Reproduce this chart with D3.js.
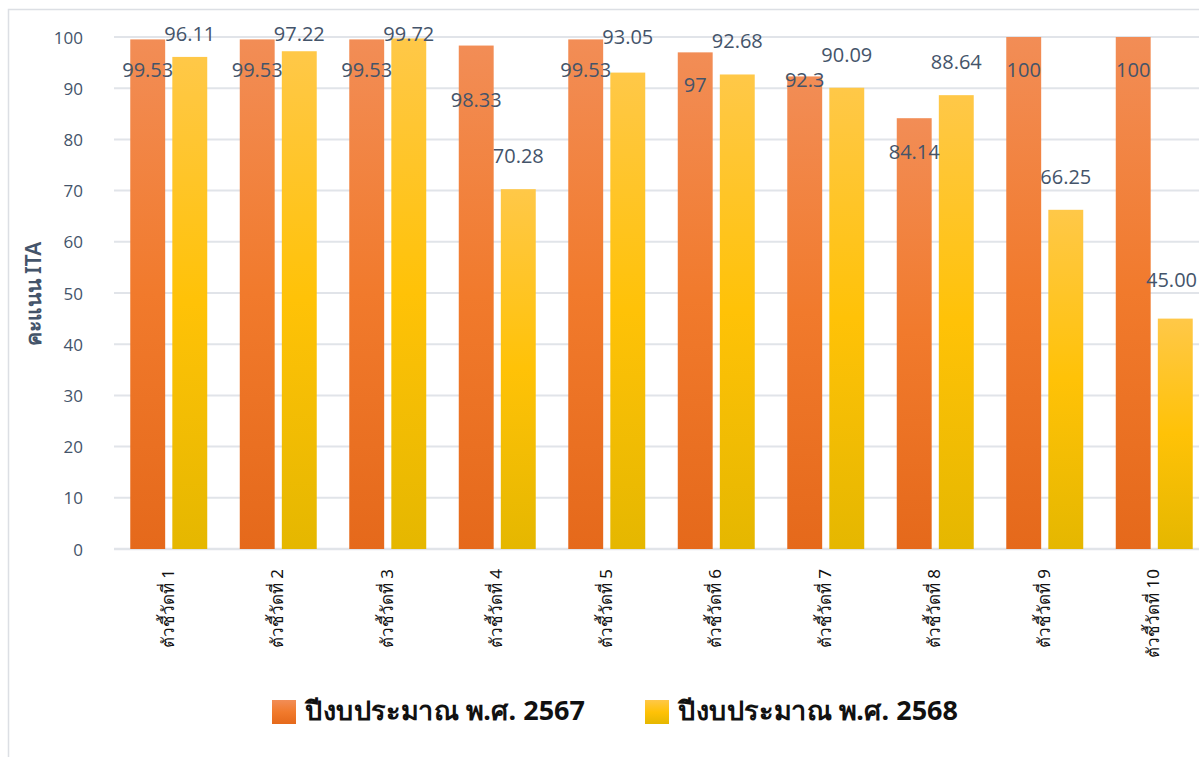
<!DOCTYPE html>
<html><head><meta charset="utf-8">
<script src="https://cdn.jsdelivr.net/npm/d3@7"></script>
<style>
html,body{margin:0;padding:0;background:#fff;}
svg{display:block;}
</style></head>
<body>
<svg id="chart" width="1199" height="757"></svg>
<script>
const categories = ["ตัวชี้วัดที่ 1","ตัวชี้วัดที่ 2","ตัวชี้วัดที่ 3","ตัวชี้วัดที่ 4","ตัวชี้วัดที่ 5","ตัวชี้วัดที่ 6","ตัวชี้วัดที่ 7","ตัวชี้วัดที่ 8","ตัวชี้วัดที่ 9","ตัวชี้วัดที่ 10"];
const seriesNames = ["ปีงบประมาณ พ.ศ. 2567","ปีงบประมาณ พ.ศ. 2568"];
const values2567 = [99.53,99.53,99.53,98.33,99.53,97,92.3,84.14,100,100];
const values2568 = [96.11,97.22,99.72,70.28,93.05,92.68,90.09,88.64,66.25,45.00];
const labels2567 = ["99.53","99.53","99.53","98.33","99.53","97","92.3","84.14","100","100"];
const labels2568 = ["96.11","97.22","99.72","70.28","93.05","92.68","90.09","88.64","66.25","45.00"];
// where each data label sits, in score units (labels were placed by hand in the original)
const labelAt2567 = [93.6,93.6,93.6,87.7,93.6,90.6,91.6,77.5,93.6,93.6];
const labelAt2568 = [100.6,100.6,100.6,76.8,100.0,99.2,96.5,95.1,72.7,52.5];
const yTicks = [0,10,20,30,40,50,60,70,80,90,100];
const yTitle = "คะแนน ITA";

const svg = d3.select("#chart");
const W = 1199;
const plotLeft = 114, plotRight = 1209, plotTop = 37, plotBottom = 549;

const defs = svg.append("defs");
function grad(id, stops){
  const g = defs.append("linearGradient").attr("id", id).attr("x1",0).attr("y1",0).attr("x2",0).attr("y2",1);
  stops.forEach(s => g.append("stop").attr("offset", s[0]).attr("stop-color", s[1]));
}
grad("gOrange", [["0%","#F28D56"],["50%","#F17A2C"],["100%","#E5691B"]]);
grad("gYellow", [["0%","#FFC848"],["50%","#FFC207"],["100%","#E5B700"]]);
const fills = ["url(#gOrange)","url(#gYellow)"];

// frame
svg.append("rect").attr("x",8.5).attr("y",9.5).attr("width",1300).attr("height",800)
  .attr("fill","none").attr("stroke","#dcdfe4").attr("stroke-width",1.5);

const x = d3.scaleBand().domain(categories).range([plotLeft, plotRight])
  .paddingInner(0.297).paddingOuter(0.1485);
const x1 = d3.scaleBand().domain(seriesNames).range([0, x.bandwidth()]).paddingInner(0.17).paddingOuter(0);
const y = d3.scaleLinear().domain([0,100]).range([plotBottom, plotTop]);

// gridlines
svg.append("g").selectAll("line").data(yTicks).join("line")
  .attr("x1", plotLeft).attr("x2", plotRight)
  .attr("y1", d => y(d)).attr("y2", d => y(d))
  .attr("stroke", "#e1e4e9").attr("stroke-width", d => d === 0 ? 2.5 : 2);

// y axis labels
const yAxis = d3.axisLeft(y).tickValues(yTicks).tickSize(0).tickPadding(0);
const gy = svg.append("g").attr("transform", `translate(83,0)`).call(yAxis);
gy.select(".domain").remove();
gy.selectAll("text").attr("font-family","'Open Sans', 'Noto Sans', sans-serif")
  .attr("font-size", 17).attr("fill", "#44546A").attr("dy","0.36em");

// y title
svg.append("text").attr("transform", `translate(41,294) rotate(-90)`)
  .attr("text-anchor","middle").attr("font-family","'Noto Sans', 'Open Sans', sans-serif")
  .attr("font-size", 21).attr("font-weight", 600).attr("fill", "#44546A").text(yTitle);

const allVals = [values2567, values2568];
const allLabels = [labels2567, labels2568];
const allLabelAt = [labelAt2567, labelAt2568];

seriesNames.forEach((s, si) => {
  svg.append("g").selectAll("rect").data(categories).join("rect")
    .attr("x", c => x(c) + x1(s))
    .attr("width", x1.bandwidth())
    .attr("y", (c,i) => y(allVals[si][i]))
    .attr("height", (c,i) => y(0) - y(allVals[si][i]))
    .attr("fill", fills[si]);
});
seriesNames.forEach((s, si) => {
  svg.append("g").selectAll("text").data(categories).join("text")
    .attr("x", c => x(c) + x1(s) + x1.bandwidth()/2)
    .attr("y", (c,i) => y(allLabelAt[si][i]))
    .attr("dy","0.36em")
    .attr("text-anchor","middle")
    .attr("font-family","'Open Sans', 'Noto Sans', sans-serif")
    .attr("font-size", 20).attr("fill", "#44546A")
    .text((c,i) => allLabels[si][i])
    .each(function(){
      const b = this.getBBox();
      if (b.x + b.width > W - 2) {
        d3.select(this).attr("x", +d3.select(this).attr("x") - (b.x + b.width - (W - 2)));
      }
    });
});

// x labels
const xAxis = d3.axisBottom(x).tickSize(0).tickPadding(0);
const gx = svg.append("g").attr("transform", `translate(0,${plotBottom})`).call(xAxis);
gx.select(".domain").remove();
gx.selectAll("text")
  .attr("transform","rotate(-90)")
  .attr("text-anchor","end")
  .attr("x", -20).attr("y", 0).attr("dy","0.3em").attr("dx", 0)
  .attr("font-family","'Noto Sans', 'Open Sans', sans-serif")
  .attr("font-size", 17).attr("fill", "#111");

// legend
const legendX = [272, 645];
const lg = svg.append("g");
seriesNames.forEach((s, si) => {
  lg.append("rect").attr("x", legendX[si]).attr("y", 700).attr("width", 24).attr("height", 24).attr("fill", fills[si]);
  lg.append("text").attr("x", legendX[si] + 33).attr("y", 711).attr("dy","0.35em")
    .attr("font-family","'Noto Sans', 'Liberation Sans', sans-serif")
    .attr("font-size", 26).attr("font-weight","bold").attr("fill","#111")
    .attr("textLength", 280).attr("lengthAdjust","spacingAndGlyphs")
    .text(s);
});
</script>
</body></html>
